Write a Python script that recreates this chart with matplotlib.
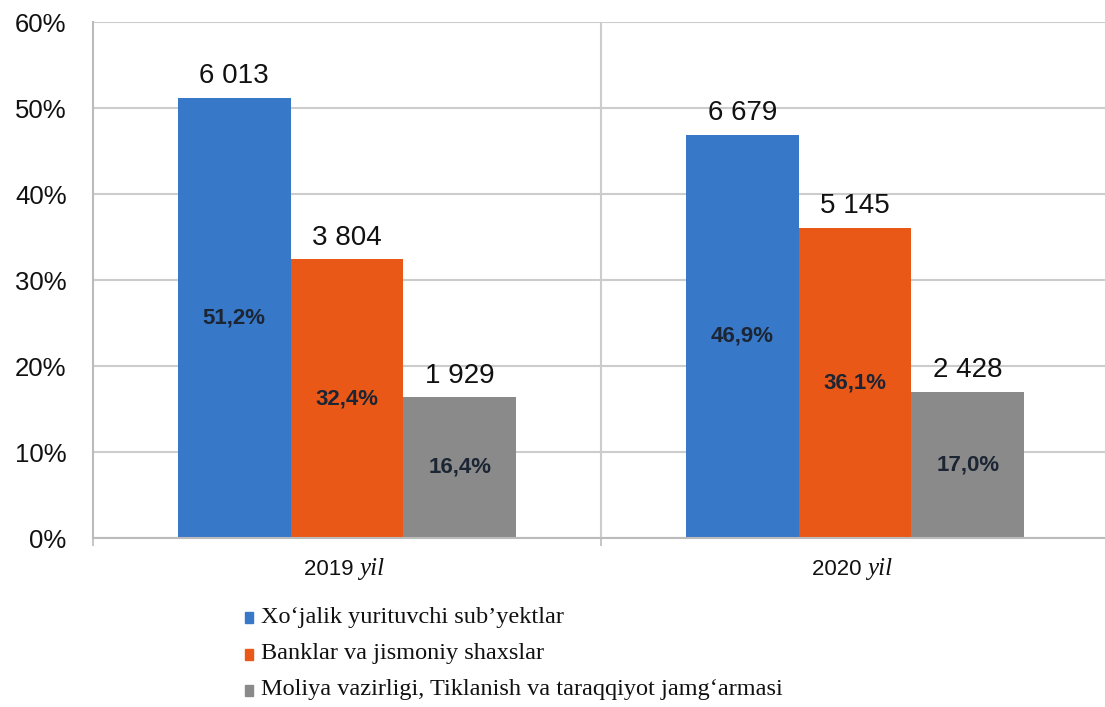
import numpy as np
import matplotlib.pyplot as plt
from matplotlib.patches import Rectangle

# data
years = ['2019', '2020']
series = ['Xo\u2018jalik yurituvchi sub\u2019yektlar',
          'Banklar va jismoniy shaxslar',
          'Moliya vazirligi, Tiklanish va taraqqiyot jamg\u2018armasi']
shares = [[51.2, 46.9],   # Xo'jalik yurituvchi sub'yektlar
          [32.4, 36.1],   # Banklar va jismoniy shaxslar
          [16.4, 17.0]]   # Moliya vazirligi ...
counts = [['6 013', '6 679'],
          ['3 804', '5 145'],
          ['1 929', '2 428']]
share_labels = [['51,2%', '46,9%'],
                ['32,4%', '36,1%'],
                ['16,4%', '17,0%']]
colors = ['#3778c8', '#ea5817', '#8a8a8a']

sans = 'Liberation Sans'
serif = 'Liberation Serif'

fig = plt.figure(figsize=(11.05, 7.07), dpi=100)
ax = fig.add_axes([93 / 1105, 169 / 707, 1016 / 1105, 516 / 707])

x = np.arange(len(years))
w = 0.222
for k in range(3):
    pos = x + (k - 1) * w
    ax.bar(pos, shares[k], width=w, color=colors[k], zorder=2)
    for j in range(len(years)):
        ax.annotate(counts[k][j], (pos[j], shares[k][j]), xytext=(0, 6),
                    textcoords='offset points', ha='center', va='bottom',
                    fontsize=20, family=sans, color='#111111')
        ax.text(pos[j], shares[k][j] / 2, share_labels[k][j], ha='center',
                va='center', fontsize=16, family=sans, fontweight='bold',
                color='#1c2533', zorder=3)

ax.set_xlim(-0.5, 1.5)
ax.set_ylim(0, 60)
ax.set_yticks(range(0, 61, 10))
ax.set_yticklabels([f'{v}%' for v in range(0, 61, 10)], family=sans,
                   fontsize=18.5, color='#111111')
ax.tick_params(axis='y', length=0, pad=19)
ax.grid(axis='y', color='#cccccc', lw=1.5, zorder=0)
ax.axvline(0.5, color='#cccccc', lw=1.5, zorder=0)

# category boundary ticks, no labels
ax.set_xticks([-0.5, 0.5, 1.5])
ax.set_xticklabels([])
ax.tick_params(axis='x', length=6, width=1.2, color='#bbbbbb')
for i, yr in enumerate(years):
    ax.annotate(yr + ' ', (i, 0), xytext=(9, -23), textcoords='offset points',
                ha='right', va='center', fontsize=16, family=sans, color='#111111')
    ax.annotate('yil', (i, 0), xytext=(9, -22), textcoords='offset points',
                ha='left', va='center', fontsize=18, family=serif,
                style='italic', color='#111111')

for side in ['top', 'right']:
    ax.spines[side].set_visible(False)
for side in ['left', 'bottom']:
    ax.spines[side].set_color('#bbbbbb')
    ax.spines[side].set_linewidth(1.5)

# legend drawn by hand below the axes
for k in range(3):
    yc = 617 + 36.5 * k
    fig.add_artist(Rectangle((245 / 1105, 1 - (yc + 6) / 707), 8 / 1105, 11 / 707,
                             transform=fig.transFigure, color=colors[k]))
    fig.text(261 / 1105, 1 - yc / 707, series[k], ha='left', va='center',
             fontsize=17.5, family=serif, color='#111111')

fig.savefig('out.png', dpi=100)
